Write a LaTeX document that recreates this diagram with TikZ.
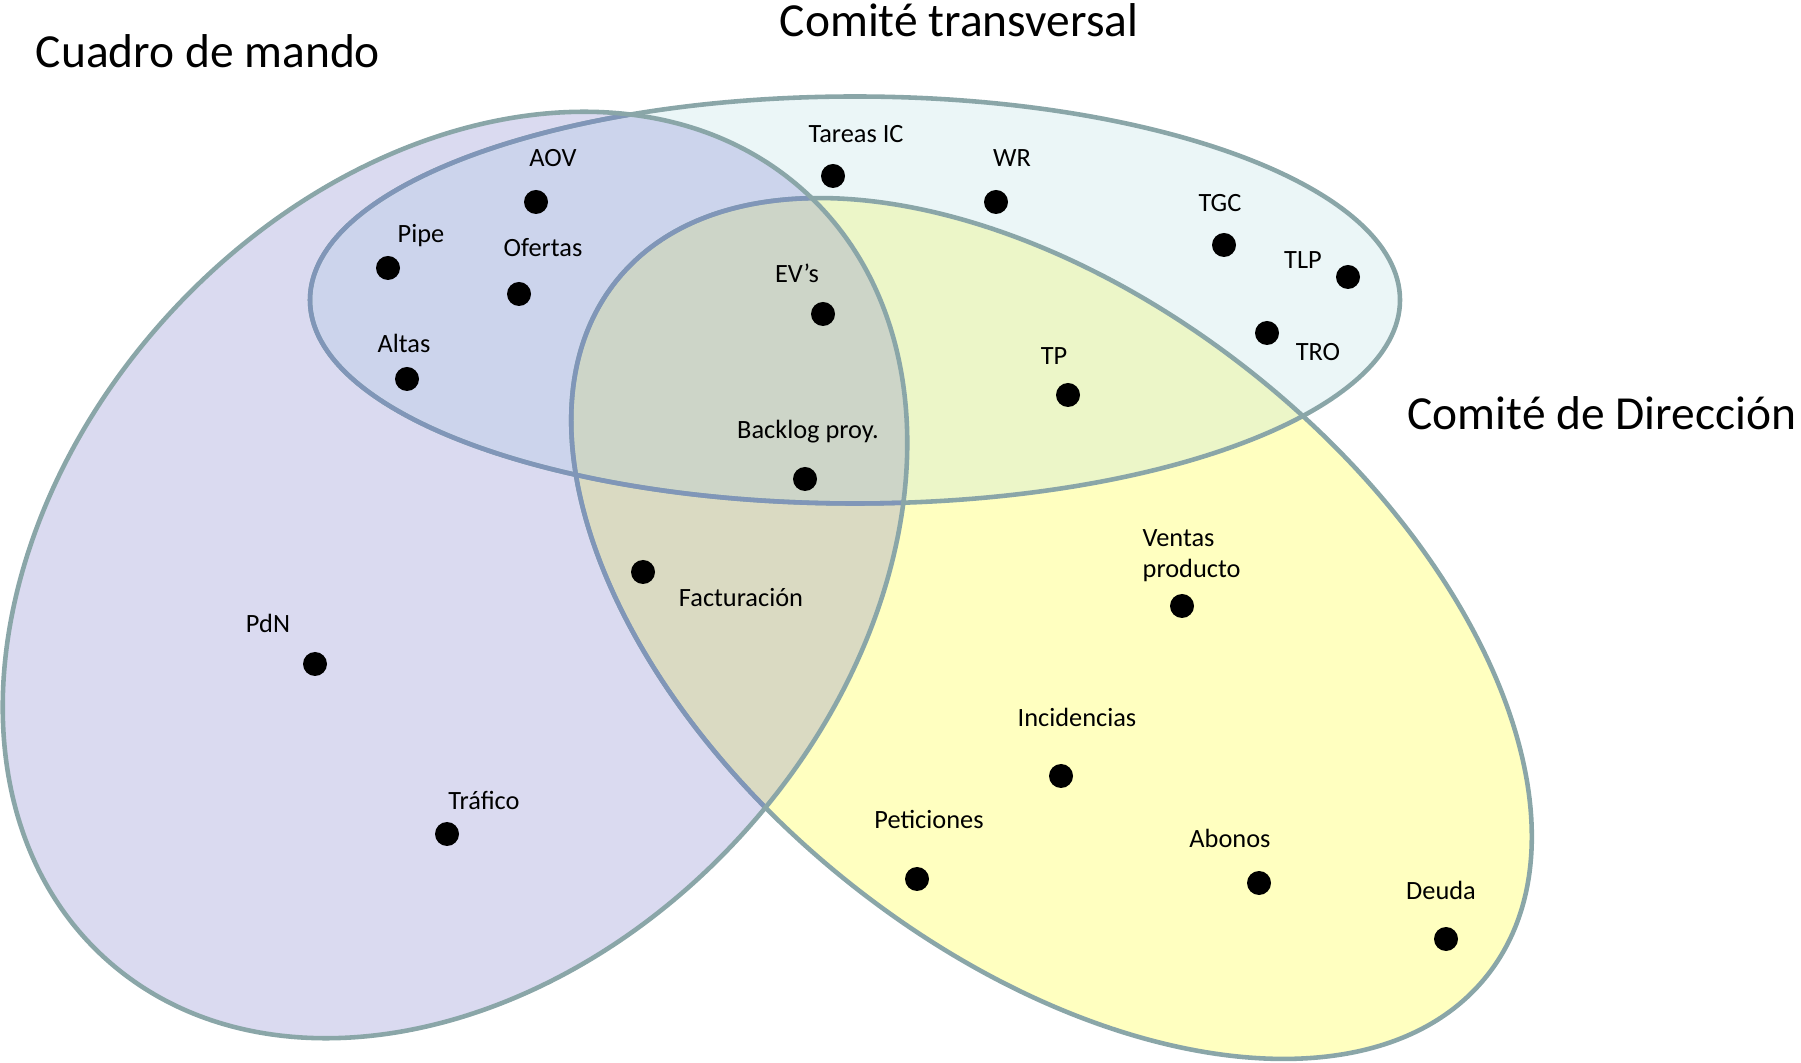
\documentclass[tikz,border=0pt]{standalone}
\usepackage{fontspec}
\setmainfont{Carlito}

\definecolor{cmfill}{RGB}{218,218,240}
\definecolor{ctfill}{RGB}{235,246,247}
\definecolor{cdfill}{RGB}{255,255,192}
\definecolor{cmctfill}{RGB}{204,212,236}
\definecolor{cmcdfill}{RGB}{218,218,194}
\definecolor{ctcdfill}{RGB}{236,246,200}
\definecolor{todosfill}{RGB}{205,213,200}
\definecolor{bordecol}{RGB}{138,166,168}
\definecolor{bordeazul}{RGB}{128,150,184}

% the three sets
\newcommand{\elipCM}{(4.55,4.87) ellipse [x radius=5.19, y radius=3.87, rotate=47.4]}
\newcommand{\elipCT}{(8.55,7.62) ellipse [x radius=5.45, y radius=2.035]}
\newcommand{\elipCD}{(10.515,4.335) ellipse [x radius=5.57, y radius=3.25, rotate=-38.6]}

\begin{document}
\begin{tikzpicture}[
		dot/.style={circle, fill=black, inner sep=0pt, minimum size=2.4mm},
		lbl/.style={anchor=base, inner sep=0pt, font=\fontsize{7.5}{8.8}\selectfont},
		titulo/.style={anchor=base, inner sep=0pt, font=\fontsize{13.5}{16}\selectfont},
		borde/.style={draw=bordecol, line width=1.3pt},
		bordeint/.style={draw=bordeazul, line width=1.3pt}]
			\useasboundingbox (0,0) rectangle (18.01,10.62);

			% Fills of the sets
			\fill[cmfill] \elipCM;
			\fill[ctfill] \elipCT;
			\fill[cdfill] \elipCD;

			% Overlaps
			\begin{scope}
				\clip \elipCM;
				\fill[cmctfill] \elipCT;
				\fill[cmcdfill] \elipCD;
			\end{scope}
			\begin{scope}
				\clip \elipCT;
				\fill[ctcdfill] \elipCD;
			\end{scope}
			\begin{scope}
				\clip \elipCM;
				\clip \elipCT;
				\fill[todosfill] \elipCD;
			\end{scope}

			% Borders
			\draw[borde] \elipCT;
			\draw[borde] \elipCD;
			\begin{scope}
				\clip \elipCM;
				\draw[bordeint] \elipCT;
				\draw[bordeint] \elipCD;
			\end{scope}
			\draw[borde] \elipCM;

			% Titles
			\node[titulo] (tcm) at (2.08, 9.94) {Cuadro de mando};
			\node[titulo] (tct) at (9.59, 10.25) {Comité transversal};
			\node[titulo] (tcd) at (16.02, 6.32) {Comité de Dirección};

			% Items of Cuadro de mando
			\node[dot] (aov) at (5.36, 8.60) {};
			\node[lbl] (laov) at (5.53, 8.955) {AOV};
			\node[dot] (pipe) at (3.88, 7.94) {};
			\node[lbl] (lpipe) at (4.21, 8.19) {Pipe};
			\node[dot] (ofertas) at (5.19, 7.68) {};
			\node[lbl] (lofertas) at (5.43, 8.05) {Ofertas};
			\node[dot] (altas) at (4.07, 6.83) {};
			\node[lbl] (laltas) at (4.04, 7.09) {Altas};
			\node[dot] (pdn) at (3.15, 3.98) {};
			\node[lbl] (lpdn) at (2.68, 4.29) {PdN};
			\node[dot] (trafico) at (4.47, 2.28) {};
			\node[lbl] (ltrafico) at (4.84, 2.52) {Tráfico};

			% Items of Comité transversal
			\node[dot] (tareas) at (8.33, 8.86) {};
			\node[lbl] (ltareas) at (8.56, 9.19) {Tareas IC};
			\node[dot] (wr) at (9.96, 8.60) {};
			\node[lbl] (lwr) at (10.12, 8.95) {WR};
			\node[dot] (tgc) at (12.24, 8.17) {};
			\node[lbl] (ltgc) at (12.20, 8.50) {TGC};
			\node[dot] (tlp) at (13.48, 7.85) {};
			\node[lbl] (ltlp) at (13.03, 7.93) {TLP};
			\node[dot] (tro) at (12.67, 7.29) {};
			\node[lbl] (ltro) at (13.18, 7.01) {TRO};
			\node[dot] (evs) at (8.23, 7.48) {};
			\node[lbl] (levs) at (7.97, 7.79) {EV’s};
			\node[dot] (tp) at (10.68, 6.67) {};
			\node[lbl] (ltp) at (10.54, 6.97) {TP};
			\node[dot] (backlog) at (8.05, 5.83) {};
			\node[lbl] (lbacklog) at (8.08, 6.23) {Backlog proy.};

			% Items of Comité de Dirección
			\node[dot] (fact) at (6.43, 4.90) {};
			\node[lbl] (lfact) at (7.41, 4.55) {Facturación};
			\node[dot] (ventas) at (11.82, 4.56) {};
			\node[lbl, anchor=north west, align=left] (lventas) at (11.42, 5.33) {Ventas\\producto};
			\node[dot] (incid) at (10.61, 2.86) {};
			\node[lbl] (lincid) at (10.77, 3.35) {Incidencias};
			\node[dot] (petic) at (9.17, 1.83) {};
			\node[lbl] (lpetic) at (9.29, 2.33) {Peticiones};
			\node[dot] (abonos) at (12.59, 1.79) {};
			\node[lbl] (labonos) at (12.30, 2.15) {Abonos};
			\node[dot] (deuda) at (14.46, 1.23) {};
			\node[lbl] (ldeuda) at (14.41, 1.63) {Deuda};
		\end{tikzpicture}
\end{document}
